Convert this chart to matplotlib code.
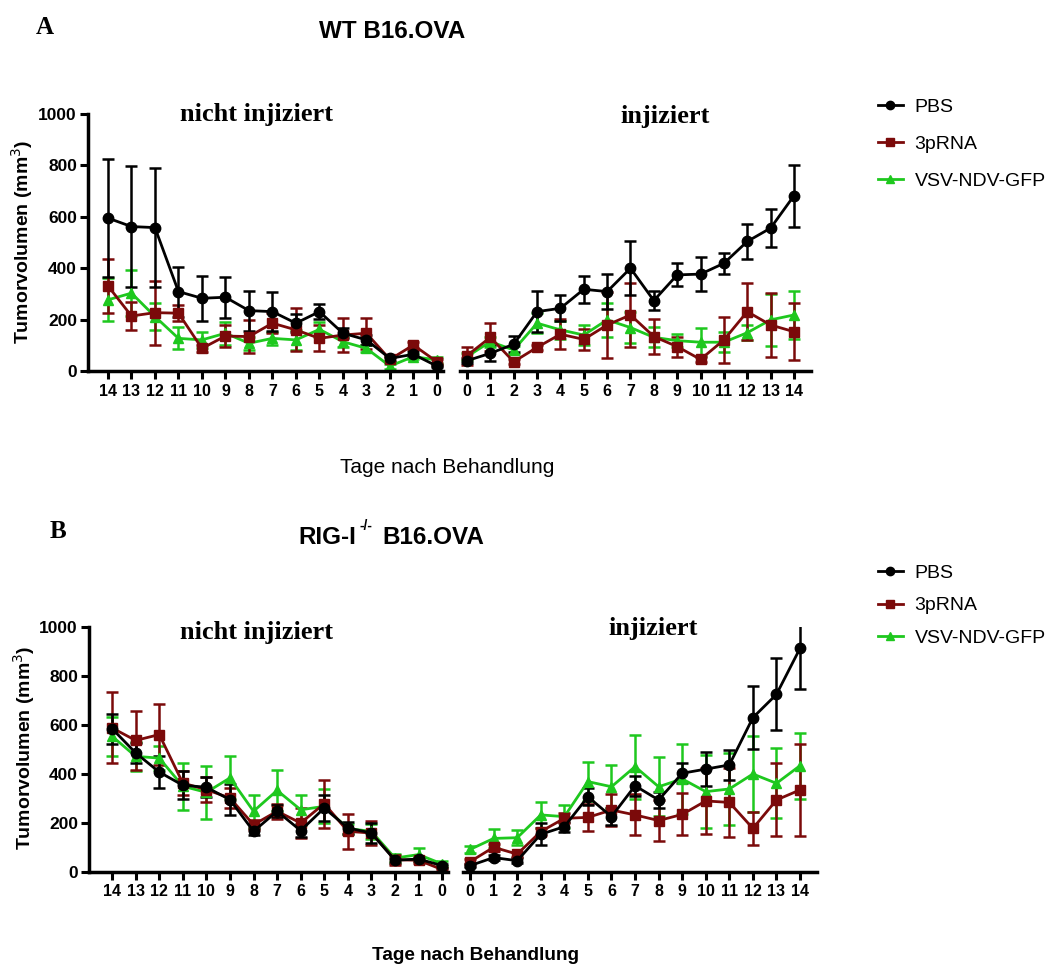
import matplotlib
matplotlib.use("Agg")
import matplotlib.pyplot as plt
from matplotlib.lines import Line2D

plt.rcParams['font.family'] = ['Liberation Sans', 'DejaVu Sans']

# days: left panels run 14 -> 0 (nicht injiziert), right panels 0 -> 14 (injiziert)
days_left = [14, 13, 12, 11, 10, 9, 8, 7, 6, 5, 4, 3, 2, 1, 0]
days_right = [0, 1, 2, 3, 4, 5, 6, 7, 8, 9, 10, 11, 12, 13, 14]
groups = ["PBS", "3pRNA", "VSV-NDV-GFP"]

# panel A, WT B16.OVA
a_pbs_l = [595, 562, 558, 309, 283, 287, 235, 231, 186, 231, 147, 121, 49, 65, 19]
a_pbs_l_err = [230, 234, 230, 97, 88, 80, 78, 77, 36, 30, 20, 20, 10, 12, 5]
a_rna_l = [331, 214, 227, 225, 88, 136, 134, 186, 160, 127, 140, 147, 45, 101, 36]
a_rna_l_err = [104, 56, 125, 30, 15, 43, 65, 39, 84, 51, 65, 61, 10, 12, 10]
a_vsv_l = [277, 303, 212, 127, 121, 147, 108, 127, 121, 162, 114, 88, 19, 56, 43]
a_vsv_l_err = [84, 90, 52, 43, 32, 45, 25, 25, 40, 30, 20, 15, 10, 10, 10]

a_pbs_r = [40, 69, 104, 231, 244, 318, 309, 400, 274, 374, 377, 419, 504, 556, 682]
a_pbs_r_err = [10, 32, 32, 81, 50, 53, 68, 104, 38, 45, 66, 42, 69, 74, 121]
a_rna_r = [60, 131, 36, 92, 143, 123, 179, 218, 134, 95, 45, 121, 231, 179, 153]
a_rna_r_err = [35, 55, 10, 10, 58, 40, 130, 124, 67, 39, 10, 88, 111, 126, 110]
a_vsv_r = [56, 114, 82, 186, 160, 140, 199, 169, 131, 118, 112, 112, 149, 199, 218]
a_vsv_r_err = [15, 20, 15, 40, 35, 39, 67, 60, 39, 25, 54, 40, 30, 101, 94]

# panel B, RIG-I-/- B16.OVA
b_pbs_l = [585, 486, 408, 354, 346, 295, 166, 248, 169, 261, 180, 159, 48, 53, 26]
b_pbs_l_err = [61, 40, 64, 57, 40, 64, 15, 25, 25, 54, 25, 41, 10, 10, 8]
b_rna_l = [588, 537, 561, 363, 336, 302, 193, 248, 200, 279, 166, 159, 50, 48, 10]
b_rna_l_err = [145, 119, 126, 50, 50, 40, 20, 30, 60, 98, 71, 50, 20, 10, 5]
b_vsv_l = [554, 472, 465, 350, 325, 384, 248, 333, 254, 268, 177, 166, 57, 71, 33]
b_vsv_l_err = [79, 60, 50, 95, 107, 88, 68, 85, 62, 70, 20, 30, 15, 27, 10]

b_pbs_r = [26, 59, 46, 154, 185, 307, 226, 352, 294, 403, 420, 437, 630, 725, 913]
b_pbs_r_err = [5, 10, 10, 44, 20, 34, 34, 40, 33, 41, 70, 61, 129, 147, 165]
b_rna_r = [42, 101, 73, 165, 219, 223, 253, 233, 210, 235, 290, 284, 178, 294, 335]
b_rna_r_err = [10, 15, 10, 15, 20, 55, 65, 84, 84, 86, 135, 140, 68, 149, 187]
b_vsv_r = [92, 137, 140, 233, 226, 369, 348, 430, 348, 380, 328, 339, 400, 362, 434]
b_vsv_r_err = [15, 37, 31, 54, 46, 79, 87, 130, 121, 142, 150, 146, 155, 143, 135]

colors = ["black", "#7b0a0a", "#1ec81e"]
markers = ["o", "s", "^"]
msizes = [7.5, 7, 7]

W, H = 1061, 965
fig = plt.figure(figsize=(W / 100, H / 100), dpi=100)


def add_axes(px_left, px_right, px_top, px_bottom):
    return fig.add_axes([px_left / W, 1 - px_bottom / H,
                         (px_right - px_left) / W, (px_bottom - px_top) / H])


def draw_panel(ax, days, series, errs, xlim, left_axis):
    # green first, black last so black sits on top
    for i in [2, 1, 0]:
        ax.errorbar(days, series[i], yerr=errs[i], color=colors[i],
                    marker=markers[i], markersize=msizes[i], linewidth=2,
                    elinewidth=1.8, capsize=4, capthick=1.8)
    ax.set_xlim(*xlim)
    ax.set_ylim(0, 1000)
    ax.set_xticks(days)
    ax.set_xticklabels([str(d) for d in days], fontsize=11.5, fontweight='bold')
    ax.spines['top'].set_visible(False)
    ax.spines['right'].set_visible(False)
    ax.spines['bottom'].set_linewidth(2.5)
    ax.spines['left'].set_linewidth(2.5)
    ax.tick_params(axis='x', direction='out', length=6, width=2.2, pad=3)
    if left_axis:
        ax.set_yticks([0, 200, 400, 600, 800, 1000])
        ax.set_yticklabels(["0", "200", "400", "600", "800", "1000"],
                           fontsize=12.5, fontweight='bold')
        ax.tick_params(axis='y', direction='out', length=6, width=2.2, pad=2)
    else:
        ax.spines['left'].set_visible(False)
        ax.set_yticks([])


# ---- panel A ----
axA1 = add_axes(88, 443, 114, 371)
draw_panel(axA1, days_left, [a_pbs_l, a_rna_l, a_vsv_l],
           [a_pbs_l_err, a_rna_l_err, a_vsv_l_err], (14.85, -0.26), True)
axA2 = add_axes(460, 811, 114, 371)
draw_panel(axA2, days_right, [a_pbs_r, a_rna_r, a_vsv_r],
           [a_pbs_r_err, a_rna_r_err, a_vsv_r_err], (-0.3, 14.73), False)

# ---- panel B ----
axB1 = add_axes(89, 448, 627, 872)
draw_panel(axB1, days_left, [b_pbs_l, b_rna_l, b_vsv_l],
           [b_pbs_l_err, b_rna_l_err, b_vsv_l_err], (14.98, -0.25), True)
axB2 = add_axes(463, 817, 627, 872)
draw_panel(axB2, days_right, [b_pbs_r, b_rna_r, b_vsv_r],
           [b_pbs_r_err, b_rna_r_err, b_vsv_r_err], (-0.3, 14.72), False)


def ftext(x, y, s, **kw):
    fig.text(x / W, 1 - y / H, s, **kw)


serif = ['Liberation Serif', 'DejaVu Serif']

# panel letters and titles
ftext(36, 27, "A", family=serif, fontweight='bold', fontsize=18, va='center')
ftext(50, 531, "B", family=serif, fontweight='bold', fontsize=18, va='center')
ftext(392, 31, "WT B16.OVA", fontweight='bold', fontsize=17.5, ha='center', va='center')
ftext(298, 537, "RIG-I", fontweight='bold', fontsize=17.5, ha='left', va='center')
ftext(360, 526, "-/-", fontweight='bold', fontsize=10, ha='left', va='center')
ftext(382, 537, "B16.OVA", fontweight='bold', fontsize=17.5, ha='left', va='center')

# sub titles
for x, y, s in [(256, 115, "nicht injiziert"), (665, 117, "injiziert"),
                (256, 633, "nicht injiziert"), (653, 628, "injiziert")]:
    ftext(x, y, s, family=serif, fontweight='bold', fontsize=19, ha='center', va='center')

# axis labels
ftext(22, 242, "Tumorvolumen (mm$^3$)", fontsize=14, fontweight='bold', rotation=90,
      ha='center', va='center')
ftext(24, 748, "Tumorvolumen (mm$^3$)", fontsize=14, fontweight='bold', rotation=90,
      ha='center', va='center')
ftext(447, 467, "Tage nach Behandlung", fontsize=15, ha='center', va='center')
ftext(475, 955, "Tage nach Behandlung", fontsize=13.7, fontweight='bold',
      ha='center', va='center')

# legends: plain line + marker, no error caps
handles = [Line2D([], [], color=colors[i], marker=markers[i], markersize=6, linewidth=2)
           for i in range(3)]
for y0, spacing in [(81, 1.0), (547, 0.76)]:
    fig.legend(handles, groups, loc='upper left', bbox_to_anchor=(860 / W, 1 - y0 / H),
               frameon=False, fontsize=14, handlelength=1.3,
               labelspacing=spacing, handletextpad=0.6)

fig.savefig("out.png", dpi=100)
